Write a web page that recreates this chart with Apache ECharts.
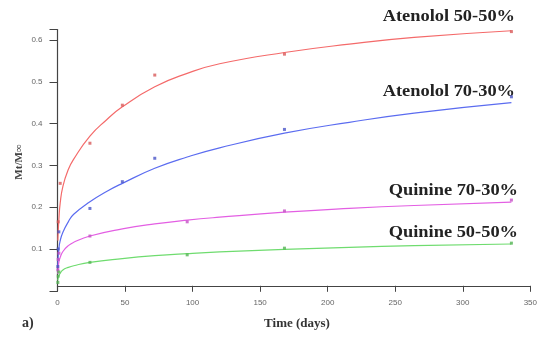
<!DOCTYPE html>
<html><head><meta charset="utf-8">
<script src="https://cdn.jsdelivr.net/npm/echarts@6/dist/echarts.min.js"></script>
<style>html,body{margin:0;padding:0;background:#fff}#c{width:540px;height:338px}</style>
</head><body><div id="c"></div>
<script>
// ---- data ----
const seriesNames = ['Atenolol 50-50%', 'Atenolol 70-30%', 'Quinine 70-30%', 'Quinine 50-50%'];
const xTicks = [0, 50, 100, 150, 200, 250, 300, 350];
const yTicks = [0.1, 0.2, 0.3, 0.4, 0.5, 0.6];

// measured points [time (days), Mt/Minf]
const atenolol5050Pts = [[0.5,0.165],[2,0.257],[24,0.353],[48,0.444],[72,0.516],[168,0.566],[336,0.62]];
const atenolol7030Pts = [[0.25,0.058],[0.5,0.1],[1,0.141],[24,0.197],[48,0.261],[72,0.317],[168,0.386],[336,0.464]];
const quinine7030Pts = [[0.25,0.05],[0.5,0.075],[1,0.09],[24,0.131],[96,0.165],[168,0.191],[336,0.217]];
const quinine5050Pts = [[0.25,0.02],[0.5,0.035],[1,0.045],[24,0.068],[96,0.086],[168,0.102],[336,0.114]];

// fitted curves
const atenolol5050Fit = [[0.25,0.12],[0.5,0.14],[1,0.17],[2,0.21],[4,0.25],[8,0.29],[12,0.315],[24,0.37],[36,0.408],[48,0.44],[72,0.488],[96,0.52],[120,0.543],[168,0.57],[216,0.59],[264,0.606],[336,0.622]];
const atenolol7030Fit = [[0.25,0.06],[0.5,0.08],[1,0.1],[2,0.12],[4,0.14],[8,0.165],[12,0.183],[24,0.213],[36,0.237],[48,0.257],[72,0.293],[96,0.32],[120,0.342],[168,0.377],[216,0.403],[264,0.425],[336,0.45]];
const quinine7030Fit = [[0.25,0.04],[0.5,0.055],[1,0.068],[2,0.08],[4,0.094],[8,0.108],[12,0.116],[24,0.131],[48,0.148],[72,0.16],[96,0.169],[120,0.176],[168,0.188],[216,0.197],[264,0.204],[336,0.212]];
const quinine5050Fit = [[0.25,0.025],[0.5,0.03],[1,0.036],[2,0.042],[4,0.05],[8,0.056],[12,0.06],[24,0.068],[48,0.077],[72,0.084],[96,0.089],[120,0.093],[168,0.099],[216,0.104],[264,0.108],[336,0.112]];

const lineColors = ['#f46a6a', '#5b6cf0', '#e35fe3', '#6fdc6f'];
const dotColors = ['#d85a5a', '#4a55c8', '#c450c4', '#55b455'];

const fits = [atenolol5050Fit, atenolol7030Fit, quinine7030Fit, quinine5050Fit];
const pts = [atenolol5050Pts, atenolol7030Pts, quinine7030Pts, quinine5050Pts];

const series = [];
fits.forEach((f, i) => {
  series.push({type:'line', name: seriesNames[i], data: f, smooth: 0.5, showSymbol:false,
    lineStyle:{color: lineColors[i], width:1.2}, z:2, silent:true});
});
pts.forEach((p, i) => {
  series.push({type:'scatter', name: seriesNames[i]+' pts', data: p, symbol:'rect', symbolSize:3,
    itemStyle:{color: dotColors[i]}, z:3});
});

const chart = echarts.init(document.getElementById('c'), null, {renderer:'canvas'});
const labelStyle = {fontFamily:'Liberation Serif', fontWeight:'bold', fontSize:16, fill:'#222', align:'right', verticalAlign:'middle'};
function seriesLabel(text, x, y) {
  return {type:'text', x:x, y:y, scaleX:1.15, style:Object.assign({text:text}, labelStyle)};
}
chart.setOption({
  animation:false,
  backgroundColor:'#fff',
  grid:{left:57.5, right:8, top:29.5, bottom:47.2},
  xAxis:{type:'value', min:0, max:350, interval:50, offset:-5,
    axisLine:{show:true, onZero:false, lineStyle:{color:'#444', width:1.2}},
    axisTick:{show:true, length:6, lineStyle:{color:'#444'}},
    splitLine:{show:false},
    axisLabel:{color:'#666', fontSize:8, fontFamily:'Liberation Sans', margin:13,
      formatter: v => xTicks.includes(v) ? String(v) : ''}},
  yAxis:{type:'value', min:0, max:0.625, interval:0.1,
    axisLine:{show:true, lineStyle:{color:'#444', width:1.2}},
    axisTick:{show:true, length:8, lineStyle:{color:'#444'}},
    splitLine:{show:false},
    axisLabel:{color:'#666', fontSize:8, fontFamily:'Liberation Sans', margin:15,
      formatter: v => { const t = yTicks.find(y => Math.abs(y - v) < 1e-6); return t !== undefined ? t.toFixed(1) : ''; }}},
  graphic:[
    seriesLabel(seriesNames[0], 515, 17),
    seriesLabel(seriesNames[1], 515, 92),
    seriesLabel(seriesNames[2], 518, 191),
    seriesLabel(seriesNames[3], 518, 233),
    {type:'text', x:297, y:324, style:{text:'Time (days)', fontFamily:'Liberation Serif', fontWeight:'bold', fontSize:13, fill:'#333', align:'center', verticalAlign:'middle'}},
    {type:'text', x:22, y:323, style:{text:'a)', fontFamily:'Liberation Serif', fontWeight:'bold', fontSize:14, fill:'#333', align:'left', verticalAlign:'middle'}},
    {type:'text', x:19, y:162, rotation:Math.PI/2, style:{text:'Mt/M\u221e', fontFamily:'Liberation Serif', fontWeight:'bold', fontSize:11, fill:'#444', align:'center', verticalAlign:'middle'}}
  ],
  series: series
});
</script></body></html>
